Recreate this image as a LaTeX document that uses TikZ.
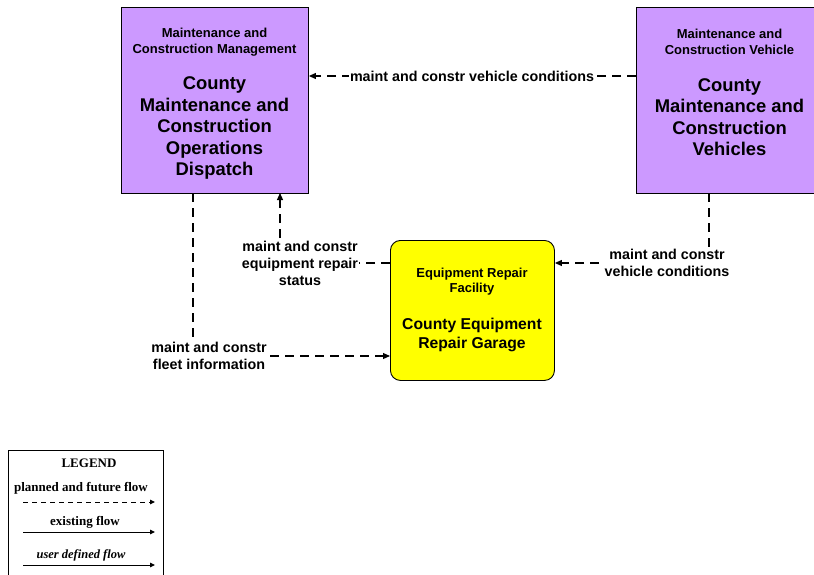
\documentclass[tikz,border=0pt]{standalone}
\usepackage{fontspec}
\setmainfont{Liberation Sans}
\newfontfamily\legendfont{Liberation Serif}
\usetikzlibrary{arrows.meta}
\definecolor{purp}{HTML}{CC99FF}
\definecolor{yell}{HTML}{FFFF00}
\tikzset{
  purplebox/.style={draw=black, line width=0.9pt, fill=purp, minimum width=187pt, minimum height=186pt, anchor=north west, inner sep=0pt},
  yellowbox/.style={draw=black, line width=0.9pt, fill=yell, rounded corners=10pt, minimum width=164pt, minimum height=140pt, anchor=north west, inner sep=0pt},
  hdr/.style={align=center, font=\bfseries\fontsize{13}{16}\selectfont, inner sep=0pt},
  ttl/.style={align=center, font=\bfseries\fontsize{18.4}{21.5}\selectfont, inner sep=0pt},
  yhdr/.style={align=center, font=\bfseries\fontsize{13}{15}\selectfont, inner sep=0pt},
  yttl/.style={align=center, font=\bfseries\fontsize{15.7}{19}\selectfont, inner sep=0pt},
  flowlabel/.style={align=center, font=\bfseries\fontsize{14.3}{17}\selectfont, fill=white, inner sep=1pt},
  flow/.style={line width=1.1pt, dash pattern=on 9pt off 6pt, -{Triangle[length=7pt,width=6pt]}},
  legtext/.style={font=\legendfont\bfseries\fontsize{13}{15}\selectfont, inner sep=0pt},
}
\begin{document}
\begin{tikzpicture}[x=1pt,y=-1pt]
\useasboundingbox (0,0) rectangle (814,575);

% boxes
\node[purplebox] (mcm) at (121,7) {};
\node[hdr] (mcmh) at (214.5,42) {Maintenance and\\Construction Management};
\node[ttl] (mcmt) at (214.5,128) {County\\Maintenance and\\Construction\\Operations\\Dispatch};

\node[purplebox] (mcv) at (636,7) {};
\node[hdr] (mcvh) at (729.5,42) {Maintenance and\\Construction Vehicle};
\node[ttl] (mcvt) at (729.5,117) {County\\Maintenance and\\Construction\\Vehicles};

\node[yellowbox] (erf) at (390,240) {};
\node[yhdr] (erfh) at (472,281.5) {Equipment Repair\\Facility};
\node[yttl] (erft) at (472,335) {County Equipment\\Repair Garage};

% coordinates
\coordinate (c1s) at (mcv.west |- 0,76);
\coordinate (c1e) at (mcm.east |- 0,76);
\coordinate (c2s) at (709,193);
\coordinate (c2b) at (709,263);
\coordinate (c2e) at (erf.east |- 0,263);
\coordinate (c3s) at (erf.west |- 0,263);
\coordinate (c3b) at (280,263);
\coordinate (c3e) at (280,193);
\coordinate (c4s) at (193,193);
\coordinate (c4b) at (193,356);
\coordinate (c4e) at (erf.west |- 0,356);

% flows
\draw[flow] (c1s) -- (c1e);
\node[flowlabel] (l1) at (472,76) {maint and constr vehicle conditions};

\draw[flow] (c2s) -- (c2b) -- (c2e);
\node[flowlabel] (l2) at (667,263) {maint and constr\\vehicle conditions};

\draw[flow] (c3s) -- (c3b) -- (c3e);
\node[flowlabel] (l3) at (300,263) {maint and constr\\equipment repair\\status};

\draw[flow] (c4s) -- (c4b) -- (c4e);
\node[flowlabel] (l4) at (209,356) {maint and constr\\fleet information};

% legend
\node[draw=black, line width=0.9pt, minimum width=155pt, minimum height=140pt, anchor=north west, inner sep=0pt] (leg) at (8,450) {};
\node[legtext] (legt) at (89,463) {LEGEND};
\node[legtext] (lp) at (81,488) {planned and future flow};
\coordinate (lp1) at (23,502);
\coordinate (lp2) at (155,502);
\draw[line width=1pt, dash pattern=on 5pt off 4pt, -{Triangle[length=5pt,width=4.5pt]}] (lp1) -- (lp2);
\node[legtext] (le) at (85,522) {existing flow};
\coordinate (le1) at (23,532);
\coordinate (le2) at (155,532);
\draw[line width=1pt, -{Triangle[length=5pt,width=4.5pt]}] (le1) -- (le2);
\node[legtext, font=\legendfont\bfseries\itshape\fontsize{12.5}{15}\selectfont] (lu) at (81,555) {user defined flow};
\coordinate (lu1) at (23,565);
\coordinate (lu2) at (155,565);
\draw[line width=1pt, -{Triangle[length=5pt,width=4.5pt]}] (lu1) -- (lu2);
\end{tikzpicture}
\end{document}
